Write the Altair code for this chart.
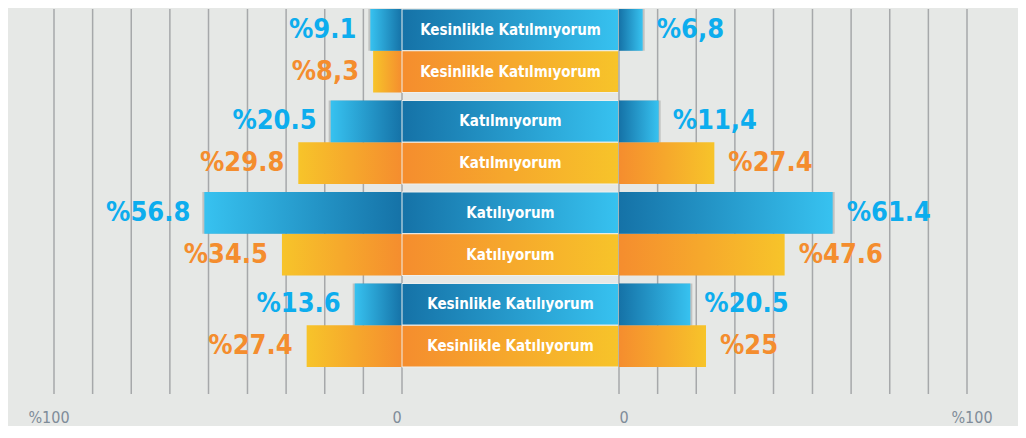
import altair as alt
import pandas as pd

# ---------------- data ----------------
categories = ["Kesinlikle Katılmıyorum", "Katılmıyorum", "Katılıyorum", "Kesinlikle Katılıyorum"]
series = ["mavi", "turuncu"]

left_blue = [9.1, 20.5, 56.8, 13.6]
left_blue_labels = ["%9.1", "%20.5", "%56.8", "%13.6"]
left_orange = [8.3, 29.8, 34.5, 27.4]
left_orange_labels = ["%8,3", "%29.8", "%34.5", "%27.4"]

right_blue = [6.8, 11.4, 61.4, 20.5]
right_blue_labels = ["%6,8", "%11,4", "%61.4", "%20.5"]
right_orange = [None, 27.4, 47.6, 25.0]
right_orange_labels = ["", "%27.4", "%47.6", "%25"]

grid_values = [0, 11.1, 22.2, 33.3, 44.4, 55.6, 66.7, 77.8, 88.9, 100]
axis_values = [0, 100]
axis_labels = ["0", "%100"]

# ---------------- tables ----------------
def side_table(blue, blue_lab, orange, orange_lab):
    rows = []
    for c, v, l in zip(categories, blue, blue_lab):
        if v is not None:
            rows.append({"category": c, "series": series[0], "value": v, "label": l})
    for c, v, l in zip(categories, orange, orange_lab):
        if v is not None:
            rows.append({"category": c, "series": series[1], "value": v, "label": l})
    return pd.DataFrame(rows)

left_df = side_table(left_blue, left_blue_labels, left_orange, left_orange_labels)
right_df = side_table(right_blue, right_blue_labels, right_orange, right_orange_labels)
center_df = pd.DataFrame(
    [{"category": c, "series": s} for c in categories for s in series]
)
grid_df = pd.DataFrame({"v": grid_values})
axis_df = pd.DataFrame({"v": axis_values, "t": axis_labels})

# ---------------- style ----------------
BG = "#e6e8e6"
GRID = "#a6a8aa"
BLUE_TXT = "#0dadee"
ORANGE_TXT = "#f48d2e"
AXIS_TXT = "#7f8c99"
FONT = "DejaVu Sans Condensed, Liberation Sans Narrow, sans-serif"

LW, CW, RW, H = 394, 217, 399, 416
PX = 3.48  # pixels per percent

xl = alt.Scale(domain=[0, LW / PX], reverse=True, nice=False, zero=False)
xr = alt.Scale(domain=[0, RW / PX], nice=False, zero=False)
xc = alt.Scale(domain=[0, 1], nice=False, zero=False)

yscale = alt.Scale(domain=categories, range=[0, 358], paddingInner=0.0874, paddingOuter=0)
yoff = alt.Scale(domain=series, paddingInner=0, paddingOuter=0)
Y = alt.Y("category:N", scale=yscale, axis=None)
YO = alt.YOffset("series:N", scale=yoff)
txt_color = alt.Color("series:N", scale=alt.Scale(domain=series, range=[BLUE_TXT, ORANGE_TXT]), legend=None)


def grad(c1, c2):
    return alt.Gradient(
        gradient="linear",
        stops=[alt.GradientStop(color=c1, offset=0), alt.GradientStop(color=c2, offset=1)],
        x1=0, x2=1, y1=0, y2=0,
    )

B_LIGHT, B_DARK = "#37c2f0", "#1572a7"
O_YEL, O_OR = "#f7c42a", "#f58d2e"


def side_panel(df, scale, width, blue_grad, orange_grad, align, dx, axis_dx):
    grid = alt.Chart(grid_df).mark_rule(color=GRID, strokeWidth=1.5).encode(
        x=alt.X("v:Q", scale=scale, axis=None), y=alt.value(0), y2=alt.value(385)
    )
    shadow = alt.Chart(df).transform_filter(alt.datum.series == series[0]).mark_bar(
        color="#000000", opacity=0.16, yOffset=3, xOffset=2 if dx > 0 else -2
    ).encode(x=alt.X("value:Q", scale=scale, axis=None), x2=alt.datum(0), y=Y, yOffset=YO)
    blue = alt.Chart(df).transform_filter(alt.datum.series == series[0]).mark_bar(
        color=blue_grad
    ).encode(x=alt.X("value:Q", scale=scale, axis=None), x2=alt.datum(0), y=Y, yOffset=YO)
    orange = alt.Chart(df).transform_filter(alt.datum.series == series[1]).mark_bar(
        color=orange_grad
    ).encode(x=alt.X("value:Q", scale=scale, axis=None), x2=alt.datum(0), y=Y, yOffset=YO)
    labels = alt.Chart(df).mark_text(
        align=align, baseline="middle", dx=dx, font=FONT, fontSize=27, fontWeight="bold"
    ).encode(x=alt.X("value:Q", scale=scale, axis=None), y=Y, yOffset=YO, text="label:N", color=txt_color)
    ticks = alt.Chart(axis_df).mark_text(
        baseline="middle", dx=axis_dx, font=FONT, fontSize=16, color=AXIS_TXT
    ).encode(x=alt.X("v:Q", scale=scale, axis=None), y=alt.value(409), text="t:N")
    return alt.layer(grid, orange, shadow, blue, labels, ticks).properties(width=width, height=H)


left = side_panel(left_df, xl, LW, grad(B_LIGHT, B_DARK), grad(O_YEL, O_OR), "right", -14, -5)
right = side_panel(right_df, xr, RW, grad(B_DARK, B_LIGHT), grad(O_OR, O_YEL), "left", 14, 5)

c_blue = alt.Chart(center_df).transform_filter(alt.datum.series == series[0]).mark_bar(
    color=grad(B_DARK, B_LIGHT), stroke="#eef0ee", strokeWidth=1
).encode(x=alt.XDatum(0, scale=xc, axis=None), x2=alt.datum(1), y=Y, yOffset=YO)
c_orange = alt.Chart(center_df).transform_filter(alt.datum.series == series[1]).mark_bar(
    color=grad(O_OR, O_YEL), stroke="#eef0ee", strokeWidth=1
).encode(x=alt.XDatum(0, scale=xc, axis=None), x2=alt.datum(1), y=Y, yOffset=YO)
c_text = alt.Chart(center_df).mark_text(
    color="white", font=FONT, fontSize=15, fontWeight="bold", baseline="middle"
).encode(x=alt.XDatum(0.5, scale=xc, axis=None), y=Y, yOffset=YO, text="category:N")
center = alt.layer(c_blue, c_orange, c_text).properties(width=CW, height=H)

chart = (
    alt.hconcat(left, center, right, spacing=0)
    .properties(padding=0, background=BG, bounds="flush")
    .configure_view(stroke=None)
)

chart.save("out.html", embed_options={"renderer": "svg", "actions": False})
